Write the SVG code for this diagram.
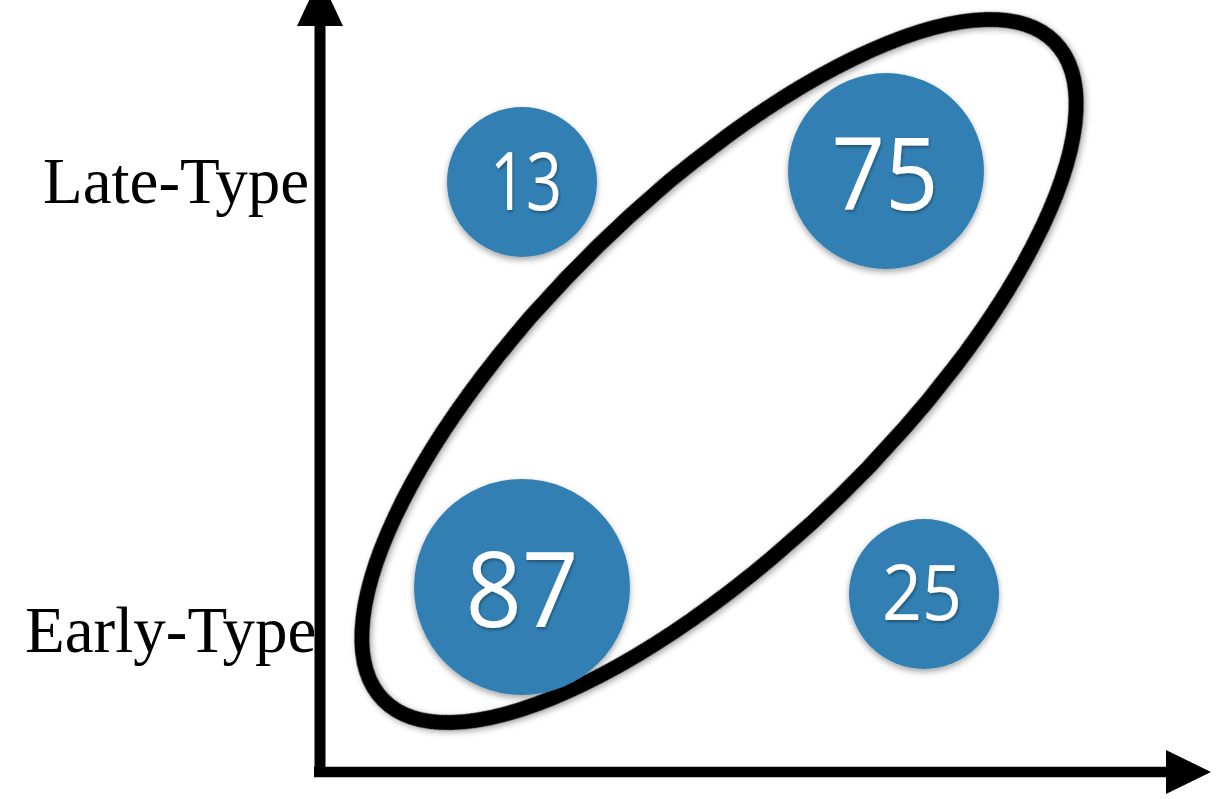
<svg xmlns="http://www.w3.org/2000/svg" width="1230" height="799" viewBox="0 0 1230 799">
<defs>
<filter id="sh" x="-20%" y="-20%" width="140%" height="140%">
<feDropShadow dx="0" dy="3" stdDeviation="3" flood-color="#000" flood-opacity="0.35"/>
</filter>
<filter id="tsh" x="-20%" y="-20%" width="140%" height="140%">
<feDropShadow dx="1" dy="2" stdDeviation="1.5" flood-color="#000" flood-opacity="0.35"/>
</filter>
</defs>
<style>
.lbl{font-family:"Liberation Serif","Times New Roman",serif;font-size:65px;fill:#000}
.axis{stroke:#000;fill:none}
.bub{fill:#3280b3;filter:url(#sh)}
.num{font-family:"Open Sans","Liberation Sans",sans-serif;fill:#fff;text-anchor:middle;filter:url(#tsh)}
</style>
<g id="labels">
<text class="lbl" x="43" y="203">Late-Type</text>
<text class="lbl" x="25" y="652">Early-Type</text>
</g>
<g id="connectors">
<line class="axis" x1="320" y1="20" x2="320" y2="777" stroke-width="11"/>
<line class="axis" x1="314" y1="772" x2="1170" y2="772" stroke-width="10.5"/>
<polygon points="297,26 343,26 320,-23" fill="#000"/>
<polygon points="1166,750 1166,794 1211,772" fill="#000"/>
<ellipse cx="719" cy="371" rx="470" ry="174" transform="rotate(-44.4 719 371)" fill="none" stroke="#000" stroke-width="15" filter="url(#sh)"/>
</g>
<g id="n13">
<circle class="bub" cx="522" cy="182" r="75"/>
<text class="num" x="526" y="210" font-size="80" textLength="72" lengthAdjust="spacingAndGlyphs">13</text>
</g>
<g id="n75">
<circle class="bub" cx="886" cy="171" r="98"/>
<text class="num" x="885" y="210" font-size="100" textLength="107" lengthAdjust="spacingAndGlyphs">75</text>
</g>
<g id="n87">
<circle class="bub" cx="522" cy="587" r="108"/>
<text class="num" x="522" y="627" font-size="104" textLength="113" lengthAdjust="spacingAndGlyphs">87</text>
</g>
<g id="n25">
<circle class="bub" cx="924" cy="594" r="75"/>
<text class="num" x="922" y="620" font-size="76" textLength="80" lengthAdjust="spacingAndGlyphs">25</text>
</g>
</svg>
